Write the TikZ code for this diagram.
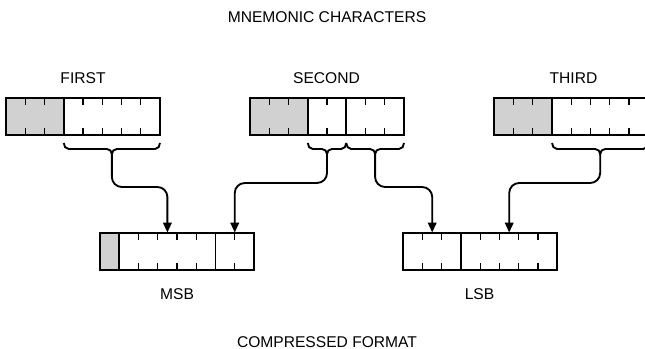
\documentclass[tikz,border=0pt]{standalone}
\usepackage{fontspec}
\setmainfont{Liberation Sans}
\usetikzlibrary{arrows.meta,fit}
\newcommand\cw{19.25}
\newcommand\bh{37}
% register box: name, x0, top, ncells, ngray, divider list
\newcommand\regbox[6]{%
  \pgfmathsetmacro\rbw{#4*\cw}%
  \pgfmathtruncatemacro\rbn{#4-1}%
  \ifnum#5>0 \fill[shade] (#2,#3) rectangle ++(#5*\cw,\bh);\fi
  \foreach \k in {1,...,\rbn} {
    \draw[tick] (#2+\k*\cw,#3) -- ++(0,7) (#2+\k*\cw,#3+\bh) -- ++(0,-7);
  }
  \foreach \k in {#6} {\draw[divider] (#2+\k*\cw,#3) -- ++(0,\bh);}
  \coordinate (#1-nw) at (#2,#3);
  \coordinate (#1-se) at (#2+\rbw,#3+\bh);
  \node[frame, fit=(#1-nw)(#1-se)] (#1) {};
}
% horizontal brace: x1, x2, name of its tip
\newcommand\hbrace[3]{%
  \pgfmathsetmacro\bc{(#1+#2)/2}%
  \draw[brace] (#1,143) to[out=-90,in=180] (#1+5,149) -- (\bc-5,149)
     to[out=0,in=90] (\bc,154) to[out=90,in=180] (\bc+5,149) -- (#2-5,149)
     to[out=0,in=-90] (#2,143);
  \coordinate (#3) at (\bc,154);
}
\begin{document}
\begin{tikzpicture}[x=0.75pt,y=-0.75pt,
  lbl/.style={font=\fontsize{11.7}{14}\selectfont, inner sep=0},
  frame/.style={draw, line width=1.5pt, inner sep=0},
  tick/.style={line width=0.9pt},
  divider/.style={line width=1.3pt},
  shade/.style={fill=black!18},
  brace/.style={line width=1.4pt},
  conn/.style={line width=1.4pt, rounded corners=7.5pt, -{Triangle[length=7.5pt,width=6.5pt]}}]
\useasboundingbox (0,0) rectangle (645,349);
\clip (0,0) rectangle (645,349);
\fill[white] (0,0) rectangle (645,349);

\node[lbl] (title) at (327,16.7) {MNEMONIC CHARACTERS};
\node[lbl] (lfirst) at (83,77.7) {FIRST};
\node[lbl] (lsecond) at (326.5,77.7) {SECOND};
\node[lbl] (lthird) at (573.5,77.7) {THIRD};
\node[lbl] (lmsb) at (177,294) {MSB};
\node[lbl] (llsb) at (479.5,294) {LSB};
\node[lbl] (bottom) at (327,342) {COMPRESSED FORMAT};

\regbox{first}{6}{98.3}{8}{3}{3}
\regbox{second}{250}{98.3}{8}{3}{3,5}
\regbox{third}{494.3}{98.3}{8}{3}{3}
\regbox{msb}{100}{233.3}{8}{1}{1,6}
\regbox{lsb}{403.3}{233.3}{8}{0}{3}

\hbrace{63.75}{160}{bfirst}
\hbrace{307.75}{346.25}{bsecA}
\hbrace{346.25}{404}{bsecB}
\hbrace{552.05}{648.3}{bthird}

\coordinate (hi) at (0,187);
\coordinate (lo) at (0,183);
\coordinate (msbA) at (167.4,232.5);
\coordinate (msbB) at (234.75,232.5);
\coordinate (lsbA) at (432.2,232.5);
\coordinate (lsbB) at (509.2,232.5);

\draw[conn] (bfirst) -- (bfirst |- hi) -| (msbA);
\draw[conn] (bsecA) -- (bsecA |- lo) -| (msbB);
\draw[conn] (bsecB) -- (bsecB |- hi) -| (lsbA);
\draw[conn] (bthird) -- (bthird |- lo) -| (lsbB);
\end{tikzpicture}
\end{document}
